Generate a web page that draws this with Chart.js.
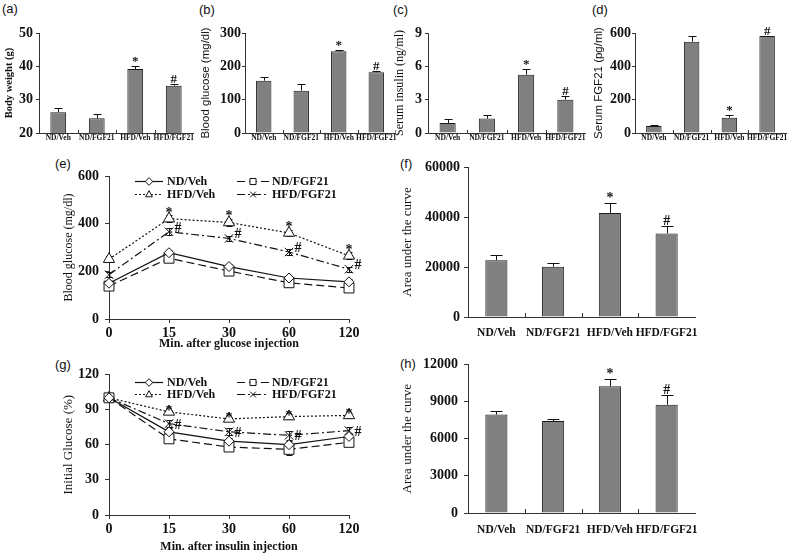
<!DOCTYPE html>
<html><head><meta charset="utf-8">
<script src="https://cdn.jsdelivr.net/npm/chart.js@4.4.1/dist/chart.umd.min.js"></script>
<style>
body{margin:0;background:#fff;width:793px;height:558px;position:relative;overflow:hidden}
canvas{position:absolute}
.pl{position:absolute;font-family:'Liberation Sans',Arial,sans-serif;font-size:13px;line-height:15px;color:#111}
</style></head><body>
<div class="pl" style="left:2px;top:1px">(a)</div>
<div class="pl" style="left:199px;top:2px">(b)</div>
<div class="pl" style="left:393px;top:2px">(c)</div>
<div class="pl" style="left:592px;top:2px">(d)</div>
<div class="pl" style="left:55px;top:156px">(e)</div>
<div class="pl" style="left:400px;top:156px">(f)</div>
<div class="pl" style="left:55px;top:357px">(g)</div>
<div class="pl" style="left:400px;top:356px">(h)</div>
<canvas id="ca"></canvas><canvas id="cb"></canvas><canvas id="cc"></canvas><canvas id="cd"></canvas>
<canvas id="ce"></canvas><canvas id="cf"></canvas><canvas id="cg"></canvas><canvas id="ch"></canvas>
<script>
// ---------- data ----------
const groups = ['ND/Veh', 'ND/FGF21', 'HFD/Veh', 'HFD/FGF21'];
const barMarks = ['', '', '*', '#'];

const bodyWeight = [26.2, 24.4, 39.2, 34.2];
const bodyWeightErr = [1.3, 1.3, 1.0, 0.5];
const bloodGlucose = [157, 127, 245, 182];
const bloodGlucoseErr = [11, 20, 5, 3];
const serumInsulin = [0.9, 1.3, 5.25, 3.0];
const serumInsulinErr = [0.36, 0.35, 0.5, 0.3];
const serumFGF21 = [42, 548, 92, 582];
const serumFGF21Err = [4, 34, 16, 3];

const minutes = ['0', '15', '30', '60', '120'];
const seriesNames = ['ND/Veh', 'ND/FGF21', 'HFD/Veh', 'HFD/FGF21'];

const ogttNDVeh = [150, 278, 220, 172, 156];
const ogttNDFGF21 = [138, 255, 201, 152, 130];
const ogttHFDVeh = [251, 421, 405, 361, 265];
const ogttHFDFGF21 = [186, 366, 338, 281, 209];
const ogttNDVehErr = [8, 12, 10, 10, 10];
const ogttNDFGF21Err = [8, 10, 10, 10, 8];
const ogttHFDVehErr = [12, 15, 15, 12, 15];
const ogttHFDFGF21Err = [10, 15, 12, 12, 10];

const ittNDVeh = [100, 71, 63, 60, 67];
const ittNDFGF21 = [100, 65, 58, 56, 62];
const ittHFDVeh = [100, 88, 82, 84, 85];
const ittHFDFGF21 = [100, 78, 71, 68, 72];
const ittNDVehErr = [2, 3, 3, 3, 3];
const ittNDFGF21Err = [2, 3, 3, 5, 3];
const ittHFDVehErr = [2, 2, 2, 2, 2];
const ittHFDFGF21Err = [2, 3, 3, 4, 3];

const lineMarksVeh = ['', '*', '*', '*', '*'];
const lineMarksFGF = ['', '#', '#', '#', '#'];

const aucOGTT = [22700, 20100, 41600, 33400];
const aucOGTTErr = [2000, 1500, 4000, 3000];
const aucITT = [7950, 7420, 10230, 8750];
const aucITTErr = [280, 200, 620, 800];

// ---------- helpers ----------
const SERIF = "'Liberation Serif','Times New Roman',serif";
const SANS = "'Liberation Sans',Arial,sans-serif";
const INK = '#111';
const AXIS = '#333';
const plain = v => String(v);

function place(cv, b) {
  cv.width = b.x1 - b.x0; cv.height = b.y1 - b.y0;
  cv.style.left = b.x0 + 'px'; cv.style.top = b.y0 + 'px';
}

const errPlugin = {
  id: 'errbars',
  beforeDatasetsDraw(chart) {
    const ctx = chart.ctx, ys = chart.scales.y;
    chart.data.datasets.forEach((ds, di) => {
      if (!ds.errors) return;
      const meta = chart.getDatasetMeta(di);
      ctx.save(); ctx.strokeStyle = INK; ctx.lineWidth = 1; ctx.setLineDash([]);
      ctx.beginPath();
      meta.data.forEach((el, i) => {
        const v = ds.data[i], e = ds.errors[i];
        if (!e) return;
        const x = Math.round(el.x) + 0.5;
        const y0 = ys.getPixelForValue(v);
        const yT = Math.round(ys.getPixelForValue(v + e)) + 0.5;
        const cap = ds.capWidth || 4;
        ctx.moveTo(x, y0); ctx.lineTo(x, yT);
        ctx.moveTo(x - cap, yT); ctx.lineTo(x + cap, yT);
        if (ds.errBoth) {
          const yB = Math.round(ys.getPixelForValue(v - e)) + 0.5;
          ctx.moveTo(x, y0); ctx.lineTo(x, yB);
          ctx.moveTo(x - cap, yB); ctx.lineTo(x + cap, yB);
        }
      });
      ctx.stroke(); ctx.restore();
    });
  }
};

const markPlugin = {
  id: 'marks',
  afterDatasetsDraw(chart) {
    const ctx = chart.ctx, ys = chart.scales.y;
    chart.data.datasets.forEach((ds, di) => {
      if (!ds.marks) return;
      const meta = chart.getDatasetMeta(di);
      ctx.save(); ctx.fillStyle = INK; ctx.font = ds.markFont;
      ctx.textAlign = 'center'; ctx.textBaseline = 'alphabetic';
      meta.data.forEach((el, i) => {
        const m = ds.marks[i];
        if (!m) return;
        const v = ds.data[i];
        let y;
        if (ds.markOnErr) y = ys.getPixelForValue(v + ds.errors[i]) - 1;
        else y = ys.getPixelForValue(v) + (m === '#' ? (ds.markDyHash || 0) : (ds.markDy || 0));
        ctx.fillText(m, el.x + (m === '#' ? (ds.markDx || 0) : 0), y);
      });
      ctx.restore();
    });
  }
};

const innerTickPlugin = {
  id: 'innerTicks',
  afterDraw(chart, args, opts) {
    if (!opts || !opts.len) return;
    const xs = chart.scales.x, ctx = chart.ctx, bottom = chart.chartArea.bottom;
    ctx.save(); ctx.strokeStyle = AXIS; ctx.lineWidth = 1; ctx.beginPath();
    for (let i = 0; i < xs.ticks.length - 1; i++) {
      const x = Math.round((xs.getPixelForTick(i) + xs.getPixelForTick(i + 1)) / 2) + 0.5;
      ctx.moveTo(x, bottom); ctx.lineTo(x, bottom - opts.len);
    }
    ctx.stroke(); ctx.restore();
  }
};

function drawMarker(ctx, style, r, x, y) {
  ctx.beginPath();
  if (style === 'rectRot') {
    ctx.moveTo(x, y - r); ctx.lineTo(x + r, y); ctx.lineTo(x, y + r); ctx.lineTo(x - r, y); ctx.closePath();
    ctx.fill(); ctx.stroke();
  } else if (style === 'rect') {
    const s = r * 0.8;
    ctx.rect(x - s, y - s, 2 * s, 2 * s); ctx.fill(); ctx.stroke();
  } else if (style === 'triangle') {
    ctx.moveTo(x, y - r); ctx.lineTo(x + r * 0.9, y + r * 0.6); ctx.lineTo(x - r * 0.9, y + r * 0.6); ctx.closePath();
    ctx.fill(); ctx.stroke();
  } else {
    const s = r * 0.75;
    ctx.moveTo(x - s, y - s); ctx.lineTo(x + s, y + s); ctx.moveTo(x + s, y - s); ctx.lineTo(x - s, y + s);
    ctx.stroke();
  }
}

const legendPlugin = {
  id: 'inLegend',
  afterDraw(chart, args, o) {
    if (!o || !o.rows) return;
    const ctx = chart.ctx, ca = chart.chartArea;
    chart.data.datasets.forEach((ds, i) => {
      const col = i % 2, row = Math.floor(i / 2);
      const x0 = ca.left + o.lineX[col], x1 = ca.left + o.lineX2[col], y = Math.round(ca.top + o.rows[row]) + 0.5;
      ctx.save();
      ctx.strokeStyle = INK; ctx.lineWidth = 1.2; ctx.setLineDash(ds.borderDash || []);
      ctx.beginPath(); ctx.moveTo(x0, y); ctx.lineTo(x1, y); ctx.stroke();
      ctx.setLineDash([]); ctx.lineWidth = 1; ctx.fillStyle = '#fff';
      drawMarker(ctx, ds.pointStyle, o.radius, (x0 + x1) / 2, y);
      ctx.fillStyle = INK; ctx.font = o.font; ctx.textAlign = 'left'; ctx.textBaseline = 'middle';
      ctx.fillText(ds.label, ca.left + o.textX[col], y);
      ctx.restore();
    });
  }
};

function barChart(id, b, o) {
  const cv = document.getElementById(id); place(cv, b);
  return new Chart(cv, {
    type: 'bar',
    data: {
      labels: groups,
      datasets: [{
        data: o.values, errors: o.errors, marks: barMarks, markOnErr: true, markFont: o.markFont,
        capWidth: o.cap,
        backgroundColor: '#808080', borderColor: '#1a1a1a', borderWidth: 1,
        barPercentage: o.barPct, categoryPercentage: 1
      }]
    },
    options: {
      responsive: false, animation: false, devicePixelRatio: 1,
      layout: { padding: { top: b.top - b.y0, right: b.x1 - b.right, left: 0, bottom: 0 } },
      plugins: { legend: { display: false }, tooltip: { enabled: false }, innerTicks: { len: o.innerTick } },
      scales: {
        x: {
          grid: { display: true, drawOnChartArea: false, drawTicks: false },
          border: { color: AXIS, width: 1 },
          ticks: { font: { family: SERIF, weight: 'bold', size: o.catSize }, color: INK, padding: o.catPad, maxRotation: 0, minRotation: 0, autoSkip: false },
          afterFit: s => { s.height = b.y1 - b.bottom; }
        },
        y: {
          min: o.min, max: o.max,
          ticks: { stepSize: o.step, callback: plain, font: { family: SERIF, weight: 'bold', size: o.tickSize }, color: INK, padding: o.tickPad },
          grid: { drawOnChartArea: false, drawTicks: true, tickLength: o.tickLen, color: AXIS },
          border: { color: AXIS, width: 1 },
          title: { display: true, text: o.title, color: INK, font: { family: o.titleFamily, size: o.titleSize, weight: o.titleWeight || 'normal' }, padding: { top: o.titlePad, bottom: 0 } },
          afterFit: s => { s.width = b.left - b.x0; }
        }
      }
    },
    plugins: [errPlugin, markPlugin, innerTickPlugin]
  });
}

const lineStyles = [
  { dash: [], point: 'rectRot', r: 5 },
  { dash: [8, 4], point: 'rect', r: 7 },
  { dash: [2, 2], point: 'triangle', r: 6.5 },
  { dash: [8, 3, 2, 3], point: 'crossRot', r: 6 }
];

function lineChart(id, b, o) {
  const cv = document.getElementById(id); place(cv, b);
  const datasets = o.series.map((s, i) => ({
    label: seriesNames[i], data: s, errors: o.errors[i], errBoth: true, capWidth: 3,
    borderColor: INK, borderWidth: 1.2, borderDash: lineStyles[i].dash,
    pointStyle: lineStyles[i].point, pointRadius: lineStyles[i].r,
    pointBackgroundColor: '#fff', pointBorderColor: INK, pointBorderWidth: 1,
    tension: 0, fill: false, clip: false,
    marks: i === 2 ? lineMarksVeh : (i === 3 ? lineMarksFGF : null),
    markFont: 'bold 14px ' + SERIF, markDx: 9, markDy: o.starDy, markDyHash: o.hashDy
  }));
  return new Chart(cv, {
    type: 'line',
    data: { labels: minutes, datasets },
    options: {
      responsive: false, animation: false, devicePixelRatio: 1,
      layout: { padding: { top: b.top - b.y0, right: b.x1 - b.right, left: 0, bottom: 0 } },
      plugins: {
        legend: { display: false }, tooltip: { enabled: false },
        inLegend: { rows: o.legendRows, lineX: [26, 128], lineX2: [54, 160], textX: [58, 163], radius: 3.8, font: 'bold 12px ' + SERIF }
      },
      scales: {
        x: {
          offset: false,
          grid: { drawOnChartArea: false, drawTicks: true, tickLength: 4, color: AXIS },
          border: { color: AXIS, width: 1 },
          ticks: { font: { family: SERIF, weight: 'bold', size: 14 }, color: INK, padding: 2, maxRotation: 0 },
          title: { display: true, text: o.xTitle, color: INK, font: { family: SERIF, weight: 'bold', size: 12 }, padding: { top: 0, bottom: o.xTitlePad } },
          afterFit: s => { s.height = b.y1 - b.bottom; }
        },
        y: {
          min: o.min, max: o.max,
          ticks: { stepSize: o.step, callback: plain, font: { family: SERIF, weight: 'bold', size: 14 }, color: INK, padding: 6 },
          grid: { drawOnChartArea: false, drawTicks: true, tickLength: 4, color: AXIS },
          border: { color: AXIS, width: 1 },
          title: { display: true, text: o.yTitle, color: INK, font: { family: SERIF, size: o.yTitleSize }, padding: { top: o.yTitlePad, bottom: 0 } },
          afterFit: s => { s.width = b.left - b.x0; }
        }
      }
    },
    plugins: [errPlugin, markPlugin, legendPlugin]
  });
}

// ---------- top row ----------
const topCommon = { catSize: 7.5, catPad: 1, tickSize: 14, tickLen: 3, tickPad: 2, barPct: 0.41, innerTick: 3, markFont: 'bold 13px ' + SERIF, cap: 4 };
barChart('ca', { x0: 0, x1: 197, y0: 15, y1: 147, left: 39, right: 193, top: 33, bottom: 133 },
  Object.assign({}, topCommon, { values: bodyWeight, errors: bodyWeightErr, min: 20, max: 50, step: 10,
    title: 'Body weight (g)', titleFamily: SERIF, titleSize: 10.5, titleWeight: 'bold', titlePad: 3, tickPad: 3 }));
barChart('cb', { x0: 198, x1: 398, y0: 15, y1: 147, left: 245, right: 395, top: 33, bottom: 133 },
  Object.assign({}, topCommon, { values: bloodGlucose, errors: bloodGlucoseErr, min: 0, max: 300, step: 100,
    title: 'Blood glucose (mg/dl)', titleFamily: SANS, titleSize: 11.5, titlePad: 1, tickPad: 1 }));
barChart('cc', { x0: 392, x1: 589, y0: 15, y1: 147, left: 428, right: 585, top: 33, bottom: 133 },
  Object.assign({}, topCommon, { values: serumInsulin, errors: serumInsulinErr, min: 0, max: 9, step: 3,
    title: 'Serum insulin (ng/ml)', titleFamily: SERIF, titleSize: 12, titlePad: 1, tickPad: 3 }));
barChart('cd', { x0: 591, x1: 793, y0: 15, y1: 147, left: 635, right: 786, top: 33, bottom: 133 },
  Object.assign({}, topCommon, { values: serumFGF21, errors: serumFGF21Err, min: 0, max: 600, step: 200,
    title: 'Serum FGF21 (pg/ml)', titleFamily: SANS, titleSize: 11.5, titlePad: 1, tickPad: 1 }));

// ---------- middle / bottom ----------
lineChart('ce', { x0: 60, x1: 375, y0: 160, y1: 352, left: 109, right: 349, top: 176, bottom: 319 }, {
  series: [ogttNDVeh, ogttNDFGF21, ogttHFDVeh, ogttHFDFGF21],
  errors: [ogttNDVehErr, ogttNDFGF21Err, ogttHFDVehErr, ogttHFDFGF21Err],
  min: 0, max: 600, step: 200, yTitle: 'Blood glucose (mg/dl)', yTitleSize: 12, yTitlePad: 2,
  xTitle: 'Min. after glucose injection', xTitlePad: 1, legendRows: [5, 18], starDy: -2, hashDy: 0
});
lineChart('cg', { x0: 60, x1: 375, y0: 360, y1: 556, left: 109, right: 349, top: 373, bottom: 515 }, {
  series: [ittNDVeh, ittNDFGF21, ittHFDVeh, ittHFDFGF21],
  errors: [ittNDVehErr, ittNDFGF21Err, ittHFDVehErr, ittHFDFGF21Err],
  min: 0, max: 120, step: 30, yTitle: 'Initial Glucose (%)', yTitleSize: 13, yTitlePad: 1,
  xTitle: 'Min. after insulin injection', xTitlePad: 2, legendRows: [8, 20], starDy: 3, hashDy: 5
});

const midCommon = { catSize: 11.5, tickSize: 14, tickLen: 4, barPct: 0.39, innerTick: 4, markFont: 'bold 14px ' + SERIF, cap: 6,
  titleFamily: SERIF, titleSize: 13, titlePad: 0 };
barChart('cf', { x0: 400, x1: 720, y0: 150, y1: 350, left: 468, right: 695, top: 167, bottom: 317 },
  Object.assign({}, midCommon, { values: aucOGTT, errors: aucOGTTErr, min: 0, max: 60000, step: 20000,
    title: 'Area under the curve', catPad: 9, tickPad: 4 }));
barChart('ch', { x0: 400, x1: 720, y0: 350, y1: 550, left: 468, right: 695, top: 363, bottom: 513 },
  Object.assign({}, midCommon, { values: aucITT, errors: aucITTErr, min: 0, max: 12000, step: 3000,
    title: 'Area under the curve', catPad: 10, tickPad: 6 }));
</script>
</body></html>
